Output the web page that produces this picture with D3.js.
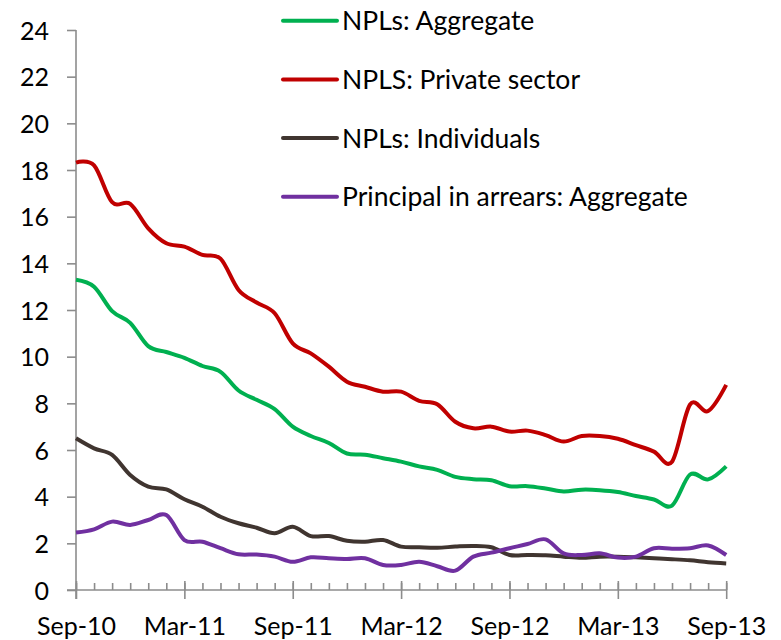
<!DOCTYPE html>
<html>
<head>
<meta charset="utf-8">
<script src="https://cdn.jsdelivr.net/npm/d3@7"></script>
<style>
  body { margin: 0; background: #fff; }
  svg text { font-family: Lato, "Open Sans", sans-serif; fill: #000; }
</style>
</head>
<body>
<div id="chart"></div>
<script>
// Month labels, Sep-10 .. Sep-13
const months = ["Sep-10","Oct-10","Nov-10","Dec-10","Jan-11","Feb-11","Mar-11","Apr-11","May-11","Jun-11","Jul-11","Aug-11",
  "Sep-11","Oct-11","Nov-11","Dec-11","Jan-12","Feb-12","Mar-12","Apr-12","May-12","Jun-12","Jul-12","Aug-12",
  "Sep-12","Oct-12","Nov-12","Dec-12","Jan-13","Feb-13","Mar-13","Apr-13","May-13","Jun-13","Jul-13","Aug-13","Sep-13"];

const nplAggregate = [13.3, 13.0, 11.95, 11.45, 10.45, 10.2, 9.95, 9.6, 9.35, 8.55, 8.15, 7.75, 7.0, 6.6, 6.3, 5.85, 5.8, 5.65,
  5.5, 5.3, 5.15, 4.85, 4.75, 4.7, 4.45, 4.45, 4.35, 4.22, 4.3, 4.28, 4.2, 4.03, 3.88, 3.62, 4.95, 4.74, 5.3];
const nplPrivate = [18.32, 18.2, 16.62, 16.55, 15.5, 14.86, 14.72, 14.36, 14.2, 12.86, 12.32, 11.86, 10.57, 10.14, 9.57, 8.93, 8.71, 8.5,
  8.5, 8.11, 7.96, 7.21, 6.93, 7.0, 6.79, 6.83, 6.64, 6.36, 6.6, 6.6, 6.48, 6.21, 5.93, 5.5, 7.95, 7.67, 8.79];
const nplIndividuals = [6.5, 6.07, 5.79, 4.93, 4.43, 4.31, 3.89, 3.57, 3.14, 2.86, 2.67, 2.43, 2.71, 2.31, 2.31, 2.11, 2.07, 2.14,
  1.86, 1.83, 1.81, 1.86, 1.89, 1.83, 1.5, 1.5, 1.49, 1.43, 1.38, 1.43, 1.43, 1.4, 1.36, 1.32, 1.27, 1.19, 1.14];
const arrearsAggregate = [2.46, 2.6, 2.93, 2.79, 3.0, 3.21, 2.14, 2.07, 1.79, 1.53, 1.52, 1.43, 1.21, 1.4, 1.36, 1.33, 1.36, 1.07,
  1.07, 1.21, 1.02, 0.83, 1.43, 1.6, 1.79, 1.97, 2.17, 1.57, 1.5, 1.57, 1.39, 1.43, 1.79, 1.77, 1.79, 1.91, 1.5];

const yTicks = [0, 2, 4, 6, 8, 10, 12, 14, 16, 18, 20, 22, 24];
const xLabelTicks = [0, 6, 12, 18, 24, 30, 36];

const series = [
  {name: "NPLs: Aggregate", values: nplAggregate, color: "#00b050"},
  {name: "NPLS: Private sector", values: nplPrivate, color: "#c00000"},
  {name: "NPLs: Individuals", values: nplIndividuals, color: "#403530"},
  {name: "Principal in arrears: Aggregate", values: arrearsAggregate, color: "#7030a0"}
];

const width = 781, height = 640;
const axisColor = "#8c8c8c";

const svg = d3.select("#chart").append("svg")
  .attr("width", width)
  .attr("height", height);

const x = d3.scaleLinear().domain([0, months.length - 1]).range([76, 726.2]);
const y = d3.scaleLinear().domain([0, 24]).range([590, 30]);

// y axis
const yAxis = svg.append("g")
  .attr("transform", `translate(${x(0)},0)`)
  .call(d3.axisLeft(y).tickValues(yTicks).tickSize(9).tickPadding(18).tickFormat(d3.format("d")));
yAxis.select(".domain").remove();
yAxis.selectAll("line").attr("stroke", axisColor).attr("stroke-width", 1.6);
yAxis.selectAll("text").style("font-size", "25px").attr("dy", "0.36em");
svg.append("line")
  .attr("x1", x(0)).attr("x2", x(0))
  .attr("y1", y(24)).attr("y2", y(0) + 9)
  .attr("stroke", axisColor).attr("stroke-width", 1.6);

// x axis: minor monthly ticks above the line, majors crossing it
const xMinor = svg.append("g")
  .attr("transform", `translate(0,${y(0)})`)
  .call(d3.axisBottom(x).tickValues(d3.range(months.length)).tickSize(-7).tickFormat(""));
xMinor.select(".domain").remove();
xMinor.selectAll("line").attr("stroke", axisColor).attr("stroke-width", 1.6);

const xMajor = svg.append("g")
  .attr("transform", `translate(0,${y(0)})`)
  .call(d3.axisBottom(x).tickValues(xLabelTicks).tickSize(9).tickPadding(18).tickFormat(i => months[i]));
xMajor.select(".domain").remove();
xMajor.selectAll("line").attr("y1", -9).attr("stroke", axisColor).attr("stroke-width", 1.6);
xMajor.selectAll("text").style("font-size", "25px");

svg.append("line")
  .attr("x1", x(0) - 9).attr("x2", x(months.length - 1))
  .attr("y1", y(0)).attr("y2", y(0))
  .attr("stroke", axisColor).attr("stroke-width", 1.6);

// lines
const line = d3.line()
  .x((d, i) => x(i))
  .y(d => y(d))
  .curve(d3.curveCardinal.tension(0));

svg.selectAll(".series")
  .data(series)
  .join("path")
  .attr("class", "series")
  .attr("fill", "none")
  .attr("stroke", d => d.color)
  .attr("stroke-width", 4)
  .attr("stroke-linejoin", "round")
  .attr("d", d => line(d.values));

// legend
const legend = svg.append("g").selectAll("g")
  .data(series)
  .join("g")
  .attr("transform", (d, i) => `translate(283,${20.7 + i * 58.7})`);

legend.append("line")
  .attr("x1", 0).attr("x2", 54)
  .attr("stroke", d => d.color)
  .attr("stroke-width", 4)
  .attr("stroke-linecap", "round");

legend.append("text")
  .attr("x", 59)
  .attr("dy", "0.36em")
  .style("font-size", "26.5px")
  .text(d => d.name);
</script>
</body>
</html>
